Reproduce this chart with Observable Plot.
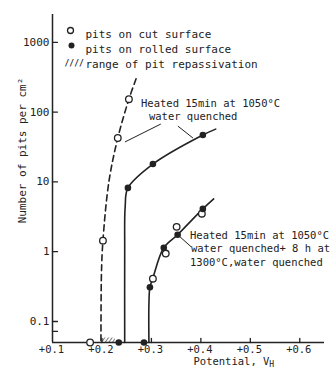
<!DOCTYPE html>
<html><head><meta charset="utf-8">
<script src="https://cdn.jsdelivr.net/npm/d3@7"></script>
<script src="https://cdn.jsdelivr.net/npm/@observablehq/plot@0.6"></script>
<style>body{margin:0;background:#fff;}</style>
</head><body><div id="chart"></div>
<script>
// axes
const xTicks = [0.1, 0.2, 0.3, 0.4, 0.5, 0.6];
const xTickLabels = ["+0.1", "+0.2", "+0.3", "+0.4", "+0.5", "+0.6"];
const yTicks = [0.1, 1, 10, 100, 1000];
const yTickLabels = ["0.1", "1", "10", "100", "1000"];
const yMinorTicks = [0.072];
const xDomain = [0.1, 0.65];
const yDomain = [0.05, 2500];

// specimen 1: heated 15 min at 1050°C, water quenched  [potential V, pits per cm²]
const cut1Points = [[0.2545, 153], [0.232, 42.5], [0.202, 1.44], [0.176, 0.05]];
const rolled1Points = [[0.404, 47], [0.303, 18], [0.2525, 8.2], [0.234, 0.05]];
const cut1Curve = [[0.269, 300], [0.2545, 153], [0.232, 42.5], [0.214, 10], [0.202, 1.44], [0.199, 0.5], [0.198, 0.05]];
const rolled1Curve = [[0.43, 57], [0.404, 47], [0.303, 18], [0.2525, 8.2], [0.247, 4.5], [0.246, 1], [0.246, 0.05]];

// specimen 2: + 8 h at 1300°C, water quenched
const cut2Points = [[0.402, 3.5], [0.351, 2.27], [0.329, 0.94], [0.303, 0.41]];
const rolled2Points = [[0.404, 4.1], [0.353, 1.75], [0.325, 1.14], [0.297, 0.31], [0.285, 0.05]];
const spec2Curve = [[0.426, 5.7], [0.404, 4.1], [0.353, 1.75], [0.325, 1.14], [0.303, 0.42], [0.297, 0.31], [0.295, 0.18], [0.295, 0.05]];

// range of pit repassivation
const repassivation = [{x1: 0.2, x2: 0.227, y1: 0.05, y2: 0.058}];

// annotations
const annotations = [
  {x: 0.279, y: 134, text: "Heated 15min at 1050°C"},
  {x: 0.295, y: 85, text: "water quenched"},
  {x: 0.378, y: 1.69, text: "Heated 15min at 1050°C"},
  {x: 0.38, y: 1.10, text: "water quenched+ 8 h at"},
  {x: 0.378, y: 0.696, text: "1300°C,water quenched"}
];
const leaders = [
  {x1: 0.2465, y1: 37.3, x2: 0.319, y2: 67.4},
  {x1: 0.3535, y1: 63, x2: 0.384, y2: 42.5},
  {x1: 0.38, y1: 1.18, x2: 0.3575, y2: 1.64}
];
const legendLabels = ["pits on cut surface", "pits on rolled surface", "range of pit repassivation"];

const ink = "#222";
const px = d => d[0], py = d => d[1];
const tickShape = {draw(ctx, l) { ctx.moveTo(0, 0); ctx.lineTo(0, -l); }};

const chart = Plot.plot({
  width: 334, height: 368,
  marginLeft: 52, marginRight: 10, marginTop: 14, marginBottom: 26,
  style: {fontFamily: "DejaVu Sans Mono", fontSize: "11px", color: ink, background: "#fff"},
  x: {domain: xDomain},
  y: {type: "log", domain: yDomain},
  marks: [
    Plot.ruleX([xDomain[0]], {stroke: ink, strokeWidth: 1.5}),
    Plot.ruleY([yDomain[0]], {stroke: ink, strokeWidth: 1.5}),
    Plot.vector(yTicks.concat(yMinorTicks), {y: d => d, frameAnchor: "left", rotate: 90, length: 5, anchor: "start", shape: tickShape, stroke: ink, strokeWidth: 1.3}),
    Plot.vector(xTicks.slice(1), {x: d => d, frameAnchor: "bottom", rotate: 0, length: 4, anchor: "start", shape: tickShape, stroke: ink, strokeWidth: 1.3}),
    Plot.axisY(yTicks, {tickSize: 0, tickPadding: 3, label: null, tickFormat: d => yTickLabels[yTicks.indexOf(d)], fill: ink}),
    Plot.axisX(xTicks, {tickSize: 0, tickPadding: 3, label: null, dx: -1, fontSize: 10.5, tickFormat: d => xTickLabels[xTicks.indexOf(d)], fill: ink}),
    Plot.text(["Number of pits per cm²"], {frameAnchor: "left", textAnchor: "middle", rotate: -90, dx: -30, dy: -28, fill: ink}),
    Plot.text(["Potential, V"], {frameAnchor: "bottom-left", textAnchor: "start", dx: 141, dy: 22, fontSize: 10.5, fill: ink}),
    Plot.rect(repassivation, {x1: "x1", x2: "x2", y1: "y1", y2: "y2", fill: "url(#hatch)"}),
    Plot.line(cut1Curve, {x: px, y: py, curve: "catmull-rom", stroke: ink, strokeWidth: 1.6, strokeDasharray: "6,4"}),
    Plot.line(rolled1Curve, {x: px, y: py, curve: "catmull-rom", stroke: ink, strokeWidth: 1.6}),
    Plot.line(spec2Curve, {x: px, y: py, curve: "catmull-rom", stroke: ink, strokeWidth: 1.6}),
    Plot.link(leaders, {x1: "x1", y1: "y1", x2: "x2", y2: "y2", stroke: ink, strokeWidth: 1}),
    Plot.dot(cut1Points.concat(cut2Points), {x: px, y: py, r: 3.3, fill: "white", stroke: ink, strokeWidth: 1.3}),
    Plot.dot(rolled1Points.concat(rolled2Points), {x: px, y: py, r: 3.3, fill: ink}),
    Plot.text(annotations, {x: "x", y: "y", text: "text", textAnchor: "start", fontSize: 10.5, fill: ink}),
    // legend
    Plot.dot([0], {frameAnchor: "top-left", dx: 18, dy: 16, r: 3, fill: "white", stroke: ink, strokeWidth: 1.3}),
    Plot.dot([0], {frameAnchor: "top-left", dx: 19, dy: 31, r: 3, fill: ink}),
    Plot.text(["////"], {frameAnchor: "top-left", dx: 12, dy: 46, textAnchor: "start", fontSize: 8, fontWeight: "bold", fill: ink}),
    Plot.text([legendLabels[0]], {frameAnchor: "top-left", dx: 33, dy: 16, textAnchor: "start", fill: ink}),
    Plot.text([legendLabels[1]], {frameAnchor: "top-left", dx: 33, dy: 31, textAnchor: "start", fill: ink}),
    Plot.text([legendLabels[2]], {frameAnchor: "top-left", dx: 33, dy: 46, textAnchor: "start", fill: ink})
  ]
});

// hatch pattern and subscript
const svg = d3.select(chart);
svg.insert("defs", ":first-child").html(
  '<pattern id="hatch" width="3" height="3" patternUnits="userSpaceOnUse" patternTransform="rotate(35)"><line x1="0" y1="0" x2="0" y2="3" stroke="' + ink + '" stroke-width="1.2"/></pattern>');
svg.selectAll("text").filter(function() { return this.textContent === "Potential, V"; })
  .append("tspan").attr("dy", 2).attr("font-size", 8).text("H");
document.getElementById("chart").appendChild(chart);
</script>
</body></html>
